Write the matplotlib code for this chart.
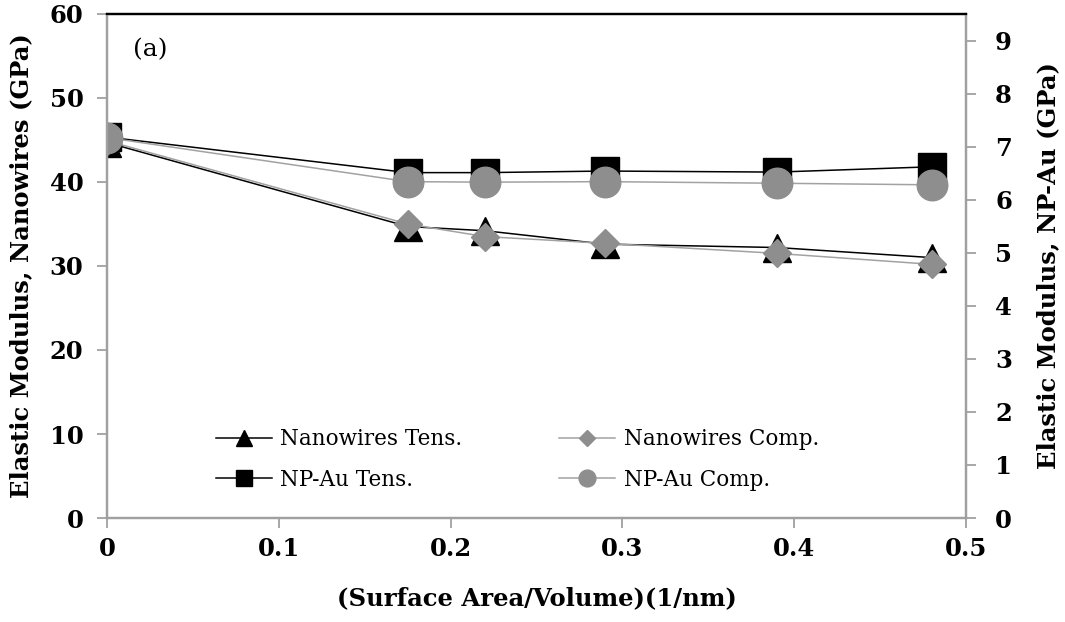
import matplotlib
matplotlib.use("Agg")
import matplotlib.pyplot as plt

# surface area / volume (1/nm)
sav = [0.0, 0.175, 0.22, 0.29, 0.39, 0.48]

# elastic modulus of nanowires (GPa), left axis
nw_tens = [44.7, 34.7, 34.2, 32.6, 32.2, 31.0]
nw_comp = [44.9, 35.0, 33.5, 32.7, 31.5, 30.2]

# elastic modulus of NP-Au (GPa), right axis
np_tens = [7.18, 6.51, 6.51, 6.54, 6.52, 6.62]
np_comp = [7.17, 6.34, 6.33, 6.34, 6.31, 6.28]

serif = "DejaVu Serif"
gray_mk = "#8e8e8e"
gray_ln = "#a2a2a2"
spine_gray = "#a0a0a0"

fig = plt.figure(figsize=(10.65, 6.22), dpi=100)
ax = fig.add_axes([0.1005, 0.1672, 0.8065, 0.8103])
ax2 = ax.twinx()

l1, = ax.plot(sav, nw_tens, color="black", lw=1.1, marker="^", ms=20,
              mfc="black", mec="black", label="Nanowires Tens.")
l2, = ax.plot(sav, nw_comp, color=gray_ln, lw=1.1, marker="D", ms=14.5,
              mfc=gray_mk, mec=gray_mk, label="Nanowires Comp.")
l3, = ax2.plot(sav, np_tens, color="black", lw=1.1, marker="s", ms=20,
               mfc="black", mec="black", label="NP-Au Tens.")
l4, = ax2.plot(sav, np_comp, color=gray_ln, lw=1.1, marker="o", ms=22,
               mfc=gray_mk, mec=gray_mk, label="NP-Au Comp.")

ax.set_xlim(0, 0.5)
ax.set_ylim(0, 60)
ax2.set_ylim(0, 9.5)
ax.set_xticks([0, 0.1, 0.2, 0.3, 0.4, 0.5])
ax.set_xticklabels(["0", "0.1", "0.2", "0.3", "0.4", "0.5"])
ax.set_yticks(range(0, 61, 10))
ax2.set_yticks(range(0, 10))

for a in (ax, ax2):
    for s in ("left", "right", "bottom"):
        a.spines[s].set_color(spine_gray)
        a.spines[s].set_linewidth(1.6)
    a.spines["top"].set_color("black")
    a.spines["top"].set_linewidth(1.6)
    a.tick_params(color=spine_gray, width=1.3, length=7, labelsize=17.5)
    for lab in a.get_xticklabels() + a.get_yticklabels():
        lab.set_fontfamily(serif)
        lab.set_fontweight("bold")

ax.tick_params(axis="x", pad=7)
ax.tick_params(axis="y", pad=10)
ax2.tick_params(axis="y", pad=14)

ax.set_xlabel("(Surface Area/Volume)(1/nm)", fontfamily=serif,
              fontweight="bold", fontsize=17.5, labelpad=18)
ax.set_ylabel("Elastic Modulus, Nanowires (GPa)", fontfamily=serif,
              fontweight="bold", fontsize=17.5, labelpad=12)
ax2.set_ylabel("Elastic Modulus, NP-Au (GPa)", fontfamily=serif,
               fontweight="bold", fontsize=17.5, labelpad=17)

ax.text(0.05, 0.93, "(a)", transform=ax.transAxes, fontfamily=serif,
        fontsize=18, ha="center", va="center")

ax2.legend(handles=[l1, l3, l2, l4], ncol=2, frameon=False,
           loc="center", bbox_to_anchor=(0.478, 0.116),
           prop={"family": serif, "size": 15.5},
           markerscale=0.55, handlelength=2.6, handletextpad=0.4,
           columnspacing=4.5, labelspacing=0.85)

fig.savefig("out.png", dpi=100)
